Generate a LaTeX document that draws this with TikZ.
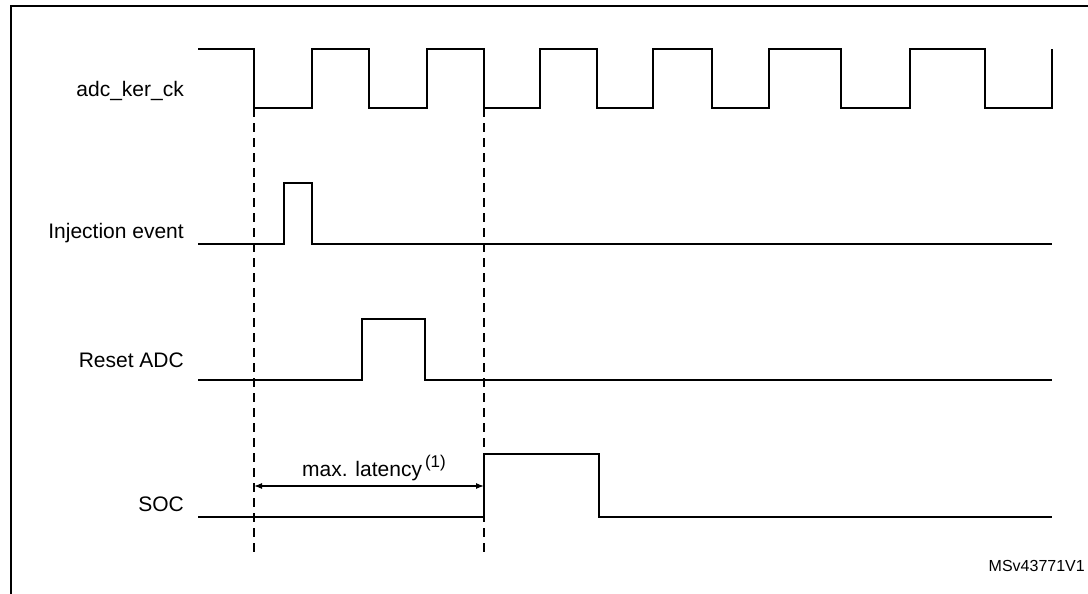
\documentclass[tikz,border=0pt]{standalone}
\usepackage{fontspec}
\setmainfont{Liberation Sans}
\usetikzlibrary{arrows.meta}
\begin{document}
\begin{tikzpicture}[x=1pt,y=-1pt,
  sig/.style={line width=1.6pt, line join=miter},
  lbl/.style={anchor=base east, font=\fontsize{21}{25}\selectfont, inner sep=0pt},
  guide/.style={dash pattern=on 9pt off 6pt, line width=1.3pt},
  frameline/.style={line width=2.6pt},
  dim/.style={line width=1.2pt, {Latex[length=8pt,width=6pt]}-{Latex[length=8pt,width=6pt]}}]
\useasboundingbox (0,0) rectangle (1088,594);
% frame
\draw[frameline] (11,610) -- (11,6) -- (1100,6);
% labels
\node[lbl] (lclk) at (184,97) {adc\_ker\_ck};
\node[lbl] (linj) at (184,238) {Injection event};
\node[lbl] (lrst) at (184,367) {Reset ADC};
\node[lbl] (lsoc) at (184,511) {SOC};
% guide coordinates
\coordinate (ga) at (254,108);
\coordinate (gb) at (484,108);
\coordinate (ga2) at (254,557);
\coordinate (gb2) at (484,557);
\draw[guide] (ga) -- (ga2);
\draw[guide] (gb) -- (gb2);
% clock
\draw[sig] (198,49) -- (254,49) -- (254,108) -- (312,108) -- (312,49) -- (369,49) -- (369,108)
  -- (427,108) -- (427,49) -- (484,49) -- (484,108) -- (540,108) -- (540,49) -- (597,49)
  -- (597,108) -- (653,108) -- (653,49) -- (712,49) -- (712,108) -- (769,108) -- (769,49)
  -- (841,49) -- (841,108) -- (910,108) -- (910,49) -- (985,49) -- (985,108) -- (1052,108)
  -- (1052,49);
% injection event
\draw[sig] (198,244) -- (284,244) -- (284,183) -- (312,183) -- (312,244) -- (1052,244);
% reset ADC
\draw[sig] (198,380) -- (362,380) -- (362,319) -- (425,319) -- (425,380) -- (1052,380);
% SOC
\draw[sig] (198,517) -- (484,517) -- (484,454) -- (599,454) -- (599,517) -- (1052,517);
% latency
\coordinate (la) at (254,486);
\coordinate (lb) at (484,486);
\draw[dim] (la) -- (lb);
\node[anchor=base west, inner sep=0pt, font=\fontsize{21}{25}\selectfont] (lat) at (302,476)
  {max. latency\kern3pt\raisebox{9pt}{\fontsize{17}{20}\selectfont(1)}};
% id
\node[anchor=base east, inner sep=0pt, font=\fontsize{16}{19}\selectfont] (id) at (1085,571) {MSv43771V1};
\end{tikzpicture}
\end{document}
